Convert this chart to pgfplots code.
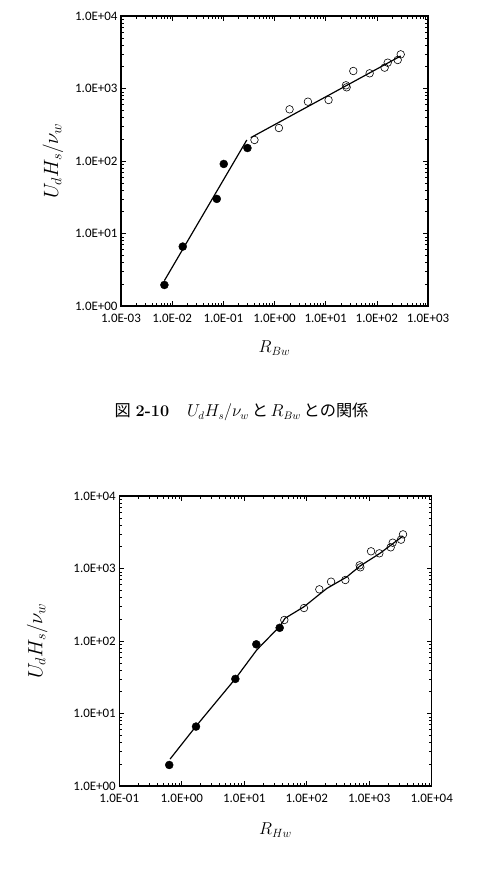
\documentclass[border=0pt]{standalone}
\usepackage{fontspec}
\usepackage{pgfplots}
\pgfplotsset{compat=1.18}
\newfontfamily\calib{Carlito}
\newfontfamily\jp{Noto Sans CJK JP}
\pgfplotsset{
 myfilled/.style={only marks, mark=*, mark size=4bp, mark options={fill=black, draw=black}},
 myopen/.style={only marks, mark=o, mark size=3.8bp, mark options={draw=black, line width=0.6bp}},
 myfit/.style={black, line width=1.2bp, no marks},
 every axis/.append style={
  scale only axis, height=290bp,
  ymin=1, ymax=1e4, ytick={1,10,100,1000,10000},
  yticklabels={1.0E+00,1.0E+01,1.0E+02,1.0E+03,1.0E+04},
  tick label style={font=\calib\fontsize{13}{15}\selectfont},
  xticklabel style={yshift=-5bp},
  label style={font=\fontsize{18}{21}\selectfont},
  ylabel style={font=\fontsize{19.5}{22}\selectfont},
  axis line style={line width=1.1bp},
  major tick length=5bp, minor tick length=3bp,
  every tick/.style={black, line width=0.6bp},
  clip=false,
 },
}

\begin{document}
\begin{tikzpicture}
\useasboundingbox (0,0) rectangle (479bp,879bp);
% ---------- top chart ----------
\begin{loglogaxis}[at={(121bp,573bp)}, anchor=south west, width=307bp,
  xmin=1e-3, xmax=1e3,
  xtick={1e-3,1e-2,1e-1,1,10,100,1000},
  xticklabels={1.0E-03,1.0E-02,1.0E-01,1.0E+00,1.0E+01,1.0E+02,1.0E+03},
  xlabel={$R_{Bw}$}, ylabel={$U_dH_s/\nu_w$},
  xlabel style={at={(axis description cs:0.5,-0.145)}, anchor=center},
  ylabel style={at={(axis description cs:-0.2215,0.5)}, anchor=center}]
\addplot[myfit] coordinates {(0.00705,2.24) (0.288,195)};
\addplot[myfit] coordinates {(0.344,210) (293,2807)};
\addplot[myfilled] coordinates {(0.00705,1.95) (0.0161,6.6) (0.0745,30) (0.102,91) (0.296,151)};
\addplot[myopen] coordinates {(0.406,195) (1.22,285) (1.97,516) (4.5,658) (11.4,694) (24.9,1106) (25.7,1038) (34.7,1743) (72.4,1619) (142,1938) (163,2271) (256,2473) (293,2958)};
\end{loglogaxis}
% ---------- caption ----------
\node at (241.5bp,467bp) {\fontsize{16.3}{20}\selectfont{\jp 図} \textbf{2-10}\hspace{1.1em}$U_dH_s/\nu_w$\,{\jp と}\,$R_{Bw}$\,{\jp との関係}};
% ---------- bottom chart ----------
\begin{loglogaxis}[at={(119.3bp,93bp)}, anchor=south west, width=312.4bp,
  xmin=1e-1, xmax=1e4,
  xtick={1e-1,1,10,100,1000,10000},
  xticklabels={1.0E-01,1.0E+00,1.0E+01,1.0E+02,1.0E+03,1.0E+04},
  xlabel={$R_{Hw}$}, ylabel={$U_dH_s/\nu_w$},
  xlabel style={at={(axis description cs:0.5,-0.152)}, anchor=center},
  ylabel style={at={(axis description cs:-0.263,0.5)}, anchor=center}]
\addplot[myfit] coordinates {(0.649,2.35) (1.67,6.6) (7.3,30.6) (15.8,75) (37.4,161) (45,206) (90.5,297) (209,530) (437,765) (713,1082) (1490,1622) (3475,2807)};
\addplot[myfilled] coordinates {(0.63,1.95) (1.69,6.6) (7.2,30) (15.6,90) (36.9,152)};
\addplot[myopen] coordinates {(43.8,195) (90.4,285) (159,516) (245,658) (415,694) (703,1106) (721,1038) (1069,1726) (1453,1619) (2206,1959) (2376,2271) (3228,2500) (3475,2958)};
\end{loglogaxis}
\end{tikzpicture}
\end{document}
